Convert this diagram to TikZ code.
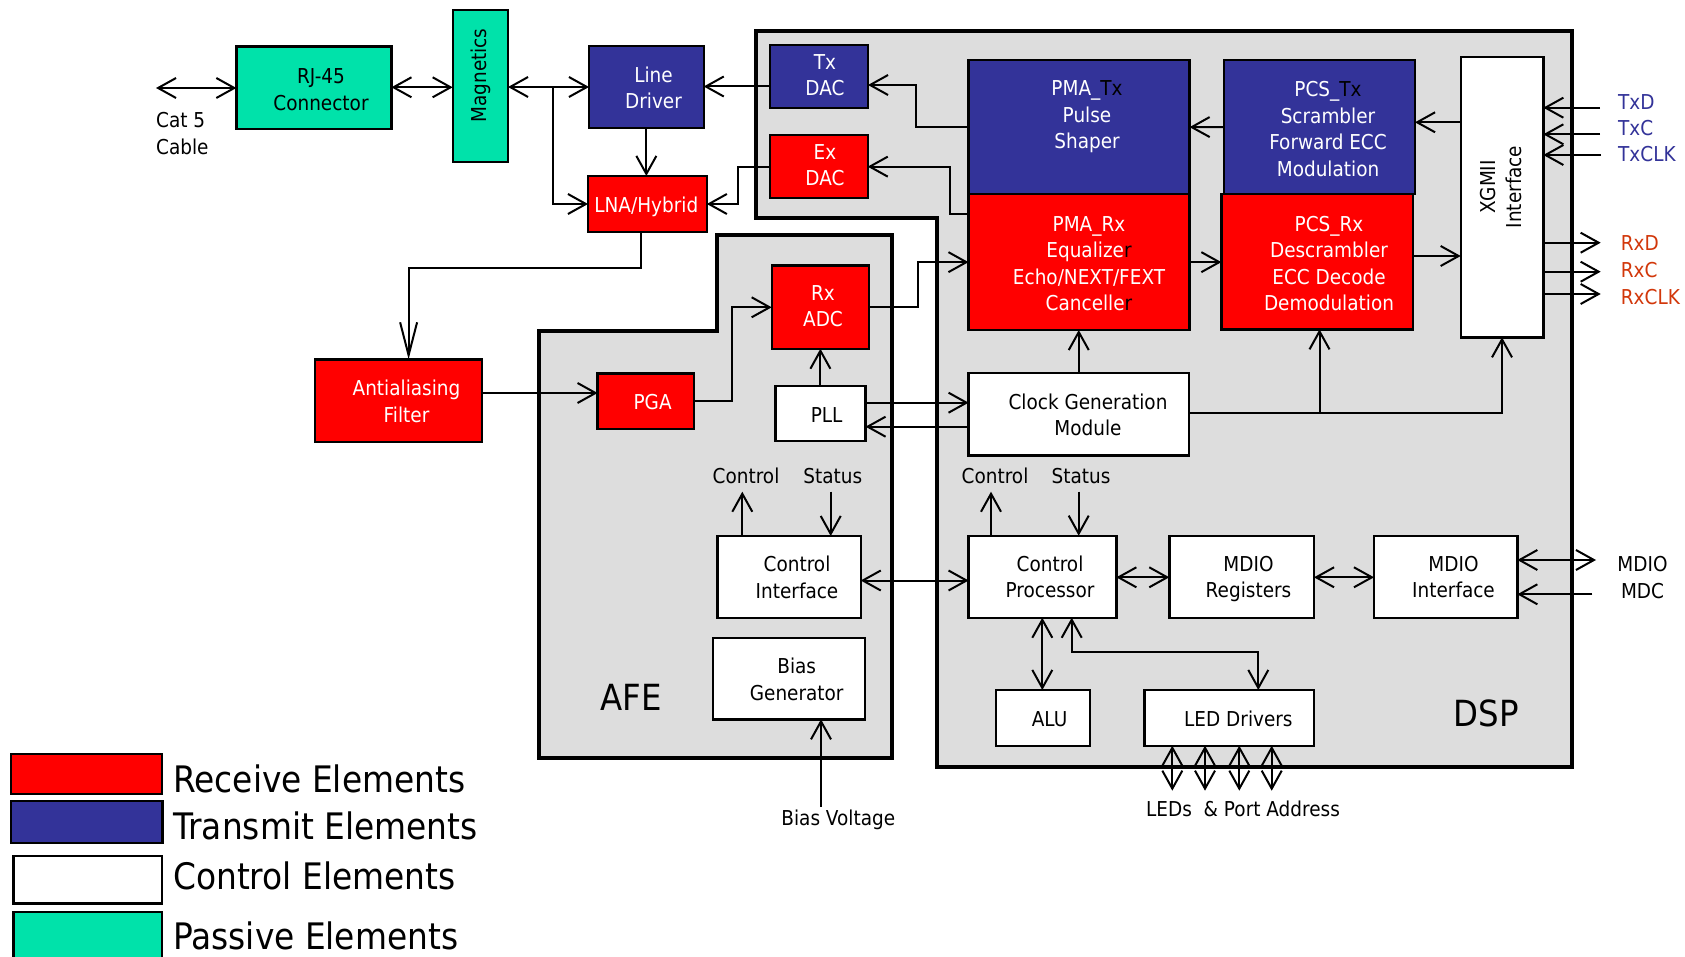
\documentclass[tikz,border=0pt]{standalone}
\usepackage{fontspec}
\setmainfont{DejaVu Sans}[FakeStretch=0.9]
\usetikzlibrary{arrows.meta,calc}
\definecolor{rxred}{RGB}{255,0,0}
\definecolor{txblue}{RGB}{51,51,153}
\definecolor{pasgreen}{RGB}{0,226,170}
\definecolor{regiongray}{RGB}{221,221,221}
\definecolor{rxlabel}{RGB}{210,55,10}
\newcommand\blk[6]{\node[#2,minimum width={#5-#3},minimum height={#6-#4}] (#1) at ({(#3+#5)/2},{(#4+#6)/2}) {};}
\begin{document}
\begin{tikzpicture}[x=1pt,y=-1pt,
  >={Straight Barb[length=18pt,width=20pt]},
  conn/.style={line width=2pt},
  blk/.style={draw=black,line width=2.4pt,inner sep=0pt,outer sep=0pt},
  rx/.style={blk,fill=rxred},
  tx/.style={blk,fill=txblue},
  ctl/.style={blk,fill=white},
  pas/.style={blk,fill=pasgreen},
  region/.style={draw=black,line width=4pt,fill=regiongray,line join=miter},
  txt/.style={align=center,inner sep=0pt,font=\fontsize{20.5}{26.5}\selectfont,text height=15pt,text depth=0pt},
  l2/.style={text height=41.5pt},
  l3/.style={text height=68pt},
  l4/.style={text height=94.5pt},
  wtxt/.style={txt,text=white},
  big/.style={inner sep=0pt,font=\fontsize{36}{40}\selectfont,text height=26pt,text depth=0pt},
  leg/.style={inner sep=0pt,anchor=west,font=\fontsize{36.5}{40}\selectfont,text height=26.5pt,text depth=0pt},
  lbl/.style={txt,anchor=west},
]
\useasboundingbox (0,0) rectangle (1685,957);
\clip (0,0) rectangle (1685,957);
\fill[white] (0,0) rectangle (1685,957);

% regions
\draw[region] (756,31) -- (1572,31) -- (1572,766.5) -- (936.7,766.5) -- (936.7,218.3) -- (756,218.3) -- cycle;
\draw[region] (539,331) -- (717,331) -- (717,235.5) -- (891.7,235.5) -- (891.7,758.3) -- (539,758.3) -- cycle;

% blocks
\blk{rj}{pas}{236.4}{46.7}{391.4}{129}
\blk{mag}{pas}{452.7}{10}{508}{162}
\blk{ld}{tx}{589}{46}{703.7}{128}
\blk{lna}{rx}{588}{176}{706.8}{232}
\blk{txdac}{tx}{770}{45}{868}{108.3}
\blk{exdac}{rx}{770}{135}{867.7}{198.3}
\blk{pmatx}{tx}{968.5}{60}{1189.6}{194.3}
\blk{pmarx}{rx}{968.5}{194.3}{1189.6}{330}
\blk{pcstx}{tx}{1224}{60}{1415}{194}
\blk{pcsrx}{rx}{1221.4}{194}{1412.7}{329.3}
\blk{xgmii}{ctl}{1460.7}{57.3}{1543.3}{337.3}
\blk{rxadc}{rx}{771.7}{265.7}{869}{348.7}
\blk{pga}{rx}{597.6}{373.3}{694.2}{429.2}
\blk{pll}{ctl}{775.3}{385.7}{865.5}{441}
\blk{aa}{rx}{314.9}{359.3}{481.8}{441.7}
\blk{cg}{ctl}{968.6}{372.7}{1188.9}{455.3}
\blk{ci}{ctl}{717.3}{536}{860.7}{617.7}
\blk{bias}{ctl}{712.7}{637.7}{865}{719.3}
\blk{cp}{ctl}{968.6}{535.7}{1116.3}{617.7}
\blk{mreg}{ctl}{1169.3}{535.7}{1314}{617.7}
\blk{mif}{ctl}{1374}{535.7}{1517.3}{617.7}
\blk{alu}{ctl}{996}{690}{1089.7}{745.7}
\blk{led}{ctl}{1144.6}{690}{1313.8}{745.7}

% legend boxes
\blk{lgrx}{rx}{10.7}{754}{161.7}{794}
\blk{lgtx}{tx}{10.7}{800.7}{162.3}{842.7}
\blk{lgctl}{ctl}{13.3}{855.7}{162}{903.3}
\blk{lgpas}{pas}{13.3}{911.7}{162}{962}

% texts
\node[txt,l2,align=left,anchor=west] (tcat) at (156,133.5) {Cat 5\\Cable};
\node[txt,l2] (trj) at (321,89.5) {RJ-45\\Connector};
\node[txt,rotate=90] (tmag) at (478.7,75.5) {Magnetics};
\node[wtxt,l2] (tld) at (653.5,88) {Line\\Driver};
\node[wtxt] (tlna) at (646.3,205) {LNA/Hybrid};
\node[wtxt,l2] (ttxdac) at (825,75) {Tx\\DAC};
\node[wtxt,l2] (texdac) at (825,164.8) {Ex\\DAC};
\node[wtxt,l3] (tpmatx) at (1087,115) {PMA\_\textcolor{black}{Tx}\\Pulse\\Shaper};
\node[wtxt,l4] (tpmarx) at (1089,263.3) {PMA\_Rx\\Equalize\textcolor{black}{r}\\Echo/NEXT/FEXT\\Cancelle\textcolor{black}{r}};
\node[wtxt,l4] (tpcstx) at (1328,128.8) {PCS\_\textcolor{black}{Tx}\\Scrambler\\Forward ECC\\Modulation};
\node[wtxt,l4] (tpcsrx) at (1329,263.3) {PCS\_Rx\\Descrambler\\ECC Decode\\Demodulation};
\node[txt,l2,rotate=90] (txg) at (1501,187) {XGMII\\Interface};
\node[wtxt,l2] (trxadc) at (823,306) {Rx\\ADC};
\node[wtxt] (tpga) at (652.6,401.7) {PGA};
\node[txt] (tpll) at (826.6,415) {PLL};
\node[wtxt,l2] (taa) at (406.5,401.7) {Antialiasing\\Filter};
\node[txt,l2] (tcg) at (1088,415) {Clock Generation\\Module};
\node[txt,l2] (tci) at (797,577.5) {Control\\Interface};
\node[txt,l2] (tbias) at (796.7,679.7) {Bias\\Generator};
\node[txt,l2] (tcp) at (1050,577) {Control\\Processor};
\node[txt,l2] (tmreg) at (1248.5,577) {MDIO\\Registers};
\node[txt,l2] (tmif) at (1453.5,577) {MDIO\\Interface};
\node[txt,l2] (tmdio) at (1642.5,577.5) {MDIO\\MDC};
\node[txt] (lctl1) at (746,476) {Control};
\node[txt] (lst1) at (832.7,476) {Status};
\node[txt] (lctl2) at (995,476) {Control};
\node[txt] (lst2) at (1081,476) {Status};
\node[txt] (talu) at (1049.6,719) {ALU};
\node[txt] (tled) at (1238.4,719) {LED Drivers};
\node[txt] (tleds) at (1243,809.3) {LEDs\hspace{6pt} \& Port Address};
\node[txt] (tbv) at (838.3,818.3) {Bias Voltage};
\node[big] (tafe) at (631,697.3) {AFE};
\node[big] (tdsp) at (1486,713.3) {DSP};
\node[lbl,text=txblue] (ltxd) at (1618,101.7) {TxD};
\node[lbl,text=txblue] (ltxc) at (1618,128.3) {TxC};
\node[lbl,text=txblue] (ltxclk) at (1618,154.3) {TxCLK};
\node[lbl,text=rxlabel] (lrxd) at (1620.7,243.3) {RxD};
\node[lbl,text=rxlabel] (lrxc) at (1620.7,270) {RxC};
\node[lbl,text=rxlabel] (lrxclk) at (1620.7,296.7) {RxCLK};
\node[leg] (lg1) at (173,779.3) {Receive Elements};
\node[leg] (lg2) at (173,826.7) {Transmit Elements};
\node[leg] (lg3) at (173,876.7) {Control Elements};
\node[leg] (lg4) at (173,936.7) {Passive Elements};

% free ends
\coordinate (c5) at (156,88);
\coordinate (br) at (553,87);
\coordinate (cgbr) at (1319.5,413.3);
\coordinate (etxd) at (1600,107.7);
\coordinate (etxc) at (1600,134.3);
\coordinate (etxclk) at (1601,155);
\coordinate (erxd) at (1600.7,242.7);
\coordinate (erxc) at (1600.7,271.7);
\coordinate (erxclk) at (1600.7,294);
\coordinate (emdio) at (1596,560);
\coordinate (emdc) at (1592.4,594.3);
\coordinate (ebv) at (821,806.7);

% connectors
\draw[conn,<->] (c5) -- (c5 -| rj.west);
\draw[conn,<->] (rj.east |- 0,87.3) -- (mag.west |- 0,87.3);
\draw[conn,<->] (mag.east |- ld.west) -- (ld.west);
\draw[conn,->] (br) |- (lna.west);
\draw[conn,->] (txdac.west |- 0,86.5) -- (ld.east |- 0,86.5);
\draw[conn,->] (ld.south) -- (ld.south |- lna.north);
\draw[conn,->] (exdac.west) -- ++(-31.7,0) |- (lna.east);
\draw[conn,->] (pmatx.west) -- (916,127.15) |- (txdac.east |- 0,85);
\draw[conn,->] (pmarx.west |- 0,214.3) -- (950,214.3) |- (exdac.east);
\draw[conn,->] (rxadc.east) -- (918.3,307.2) |- (pmarx.west);
\draw[conn,->] (pcstx.west) -- (pmatx.east);
\draw[conn,->] (pmarx.east) -- (pmarx.east -| pcsrx.west);
\draw[conn,->] (xgmii.west |- 0,122.3) -- (pcstx.east |- 0,122.3);
\draw[conn,->] (pcsrx.east |- 0,256) -- (xgmii.west |- 0,256);
\draw[conn,->] (etxd) -- (etxd -| xgmii.east);
\draw[conn,->] (etxc) -- (etxc -| xgmii.east);
\draw[conn,->] (etxclk) -- (etxclk -| xgmii.east);
\draw[conn,->] (erxd -| xgmii.east) -- (erxd);
\draw[conn,->] (erxc -| xgmii.east) -- (erxc);
\draw[conn,->] (erxclk -| xgmii.east) -- (erxclk);
\draw[conn,->] (cg.north) -- (cg.north |- pmarx.south);
\draw[conn,->] (cg.east |- cgbr) -| (xgmii.south);
\draw[conn,->] (cgbr) -- (cgbr |- pcsrx.south);
\draw[conn,->] (pll.east |- 0,402.7) -- (cg.west |- 0,402.7);
\draw[conn,->] (cg.west |- 0,426.7) -- (pll.east |- 0,426.7);
\draw[conn,->] (pll.north) -- (pll.north |- rxadc.south);
\draw[conn,->] (pga.east) -- (732.3,401.25) |- (rxadc.west |- 0,307.3);
\draw[conn,->] (aa.east |- 0,393) -- (pga.west |- 0,393);
\draw[conn,-{Straight Barb[length=33pt,width=17pt]}] (lna.south -| 641,0) -- (641,268.3) -| (aa.north -| 408.6,0);
\draw[conn,<->] (ci.east |- 0,580.5) -- (cp.west |- 0,580.5);
\draw[conn,->] (ci.north -| 742.3,0) -- ++(0,-44.3);
\draw[conn,->] (830.7,491.7) -- (ci.north -| 830.7,0);
\draw[conn,->] (cp.north -| 991,0) -- ++(0,-44);
\draw[conn,->] (1078.7,491.7) -- (cp.north -| 1078.7,0);
\draw[conn,<->] (cp.east |- 0,577.3) -- (mreg.west |- 0,577.3);
\draw[conn,<->] (mreg.east |- 0,577.3) -- (mif.west |- 0,577.3);
\draw[conn,<->] (mif.east |- emdio) -- (emdio);
\draw[conn,->] (emdc) -- (emdc -| mif.east);
\draw[conn,<->] (cp.south -| 1042.3,0) -- (alu.north -| 1042.3,0);
\draw[conn,<->] (cp.south -| 1071.7,0) |- (1258.3,651.7) -- (led.north -| 1258.3,0);
\foreach \xx in {1172.3,1205,1239.3,1271.7}
  \draw[conn,<->] (led.south -| \xx,0) -- (\xx,790.7);
\draw[conn,->] (ebv) -- (ebv |- bias.south);
\end{tikzpicture}
\end{document}
